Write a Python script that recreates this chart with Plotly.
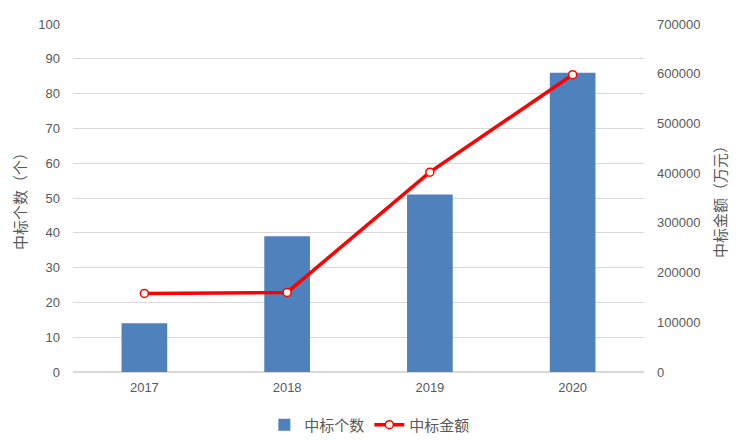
import plotly.graph_objects as go

# data
years = ["2017", "2018", "2019", "2020"]
bid_counts = [14, 39, 51, 86]                      # 中标个数（个）
bid_amounts = [158000, 160000, 402000, 598000]      # 中标金额（万元）

FONT = "Liberation Sans, Noto Sans CJK SC, sans-serif"
GRAY = "#595959"

fig = go.Figure()

fig.add_trace(go.Bar(
    x=years, y=bid_counts, name="中标个数",
    marker=dict(color="#4f81bd", line=dict(width=0)),
    width=0.32,
))

fig.add_trace(go.Scatter(
    x=years, y=bid_amounts, name="中标金额", yaxis="y2",
    mode="lines+markers",
    line=dict(color="#ff0000", width=3.5),
    marker=dict(size=8, color="#fffbeb", line=dict(color="#ff0000", width=1.5)),
))

# axis titles as annotations so they sit exactly where the original has them
fig.add_annotation(text="中标个数（个）", xref="paper", yref="paper", x=0, y=0.5,
                   xshift=-53, xanchor="center", yanchor="middle", textangle=-90,
                   showarrow=False, font=dict(size=15, color=GRAY))
fig.add_annotation(text="中标金额（万元）", xref="paper", yref="paper", x=1, y=0.5,
                   xshift=76, xanchor="center", yanchor="middle", textangle=-90,
                   showarrow=False, font=dict(size=15, color=GRAY))

# page body has an 8px margin, so margins are shifted to compensate
fig.update_layout(
    width=743, height=444,
    margin=dict(l=65, r=107, t=16, b=80),
    paper_bgcolor="white", plot_bgcolor="white",
    font=dict(family=FONT, size=13, color=GRAY),
    showlegend=True,
    legend=dict(orientation="h", x=0.487, xanchor="center", xref="container",
                y=0.061, yanchor="middle", yref="container",
                font=dict(size=15, color=GRAY)),
    xaxis=dict(showgrid=False, showline=False, ticks="", automargin=False,
               tickfont=dict(size=13), ticklabelstandoff=6),
    yaxis=dict(
        range=[0, 100], dtick=10, showgrid=True, gridcolor="#d9d9d9", gridwidth=1,
        zeroline=True, zerolinecolor="#d9d9d9", ticks="", ticklabelstandoff=12,
        automargin=False,
    ),
    yaxis2=dict(
        range=[0, 700000], dtick=100000, overlaying="y", side="right",
        showgrid=False, zeroline=False, ticks="", tickformat="d", ticklabelstandoff=12,
        automargin=False,
    ),
)

fig.write_html("out.html")
